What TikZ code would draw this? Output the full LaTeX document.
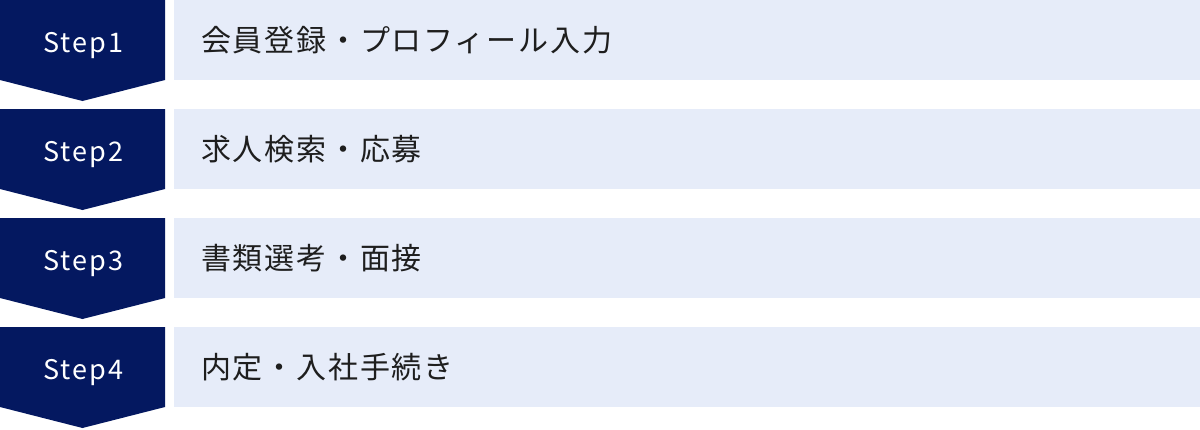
\documentclass[tikz,border=0pt]{standalone}
\usepackage{fontspec}
\setmainfont[LetterSpace=6]{Noto Sans CJK JP}
\newfontfamily\stepfont[LetterSpace=8]{Noto Sans CJK JP}

\definecolor{stepnavy}{RGB}{4,24,96}
\definecolor{steplight}{RGB}{230,236,249}
\definecolor{steptext}{RGB}{30,30,30}

\def\flowstep#1#2#3{
	\fill [stepnavy] (0,#1) -- ++(165,0) -- ++(0,80) -- ++(-82.5,21)
		-- ++(-82.5,-21) -- cycle;
	\node [badge] (S#2) at (83.5,#1+52) {Step#2};
	\node [panel] (P#2) at (174,#1+40) {#3};
}

\begin{document}
\begin{tikzpicture}[x=1pt,y=-1pt,
	badge/.style={anchor=base, text=white, inner sep=0pt,
		font=\stepfont\fontsize{27}{30}\selectfont},
	panel/.style={anchor=west, fill=steplight, text=steptext,
		minimum width=1026pt, minimum height=80pt,
		inner xsep=27pt, inner ysep=0pt, text width=972pt, align=left,
		font=\fontsize{30}{36}\selectfont},
	]
	\useasboundingbox (0,0) rectangle (1200,429);

	\flowstep{0}{1}{会員登録・プロフィール入力}
	\flowstep{109}{2}{求人検索・応募}
	\flowstep{218}{3}{書類選考・面接}
	\flowstep{327}{4}{内定・入社手続き}
\end{tikzpicture}
\end{document}
